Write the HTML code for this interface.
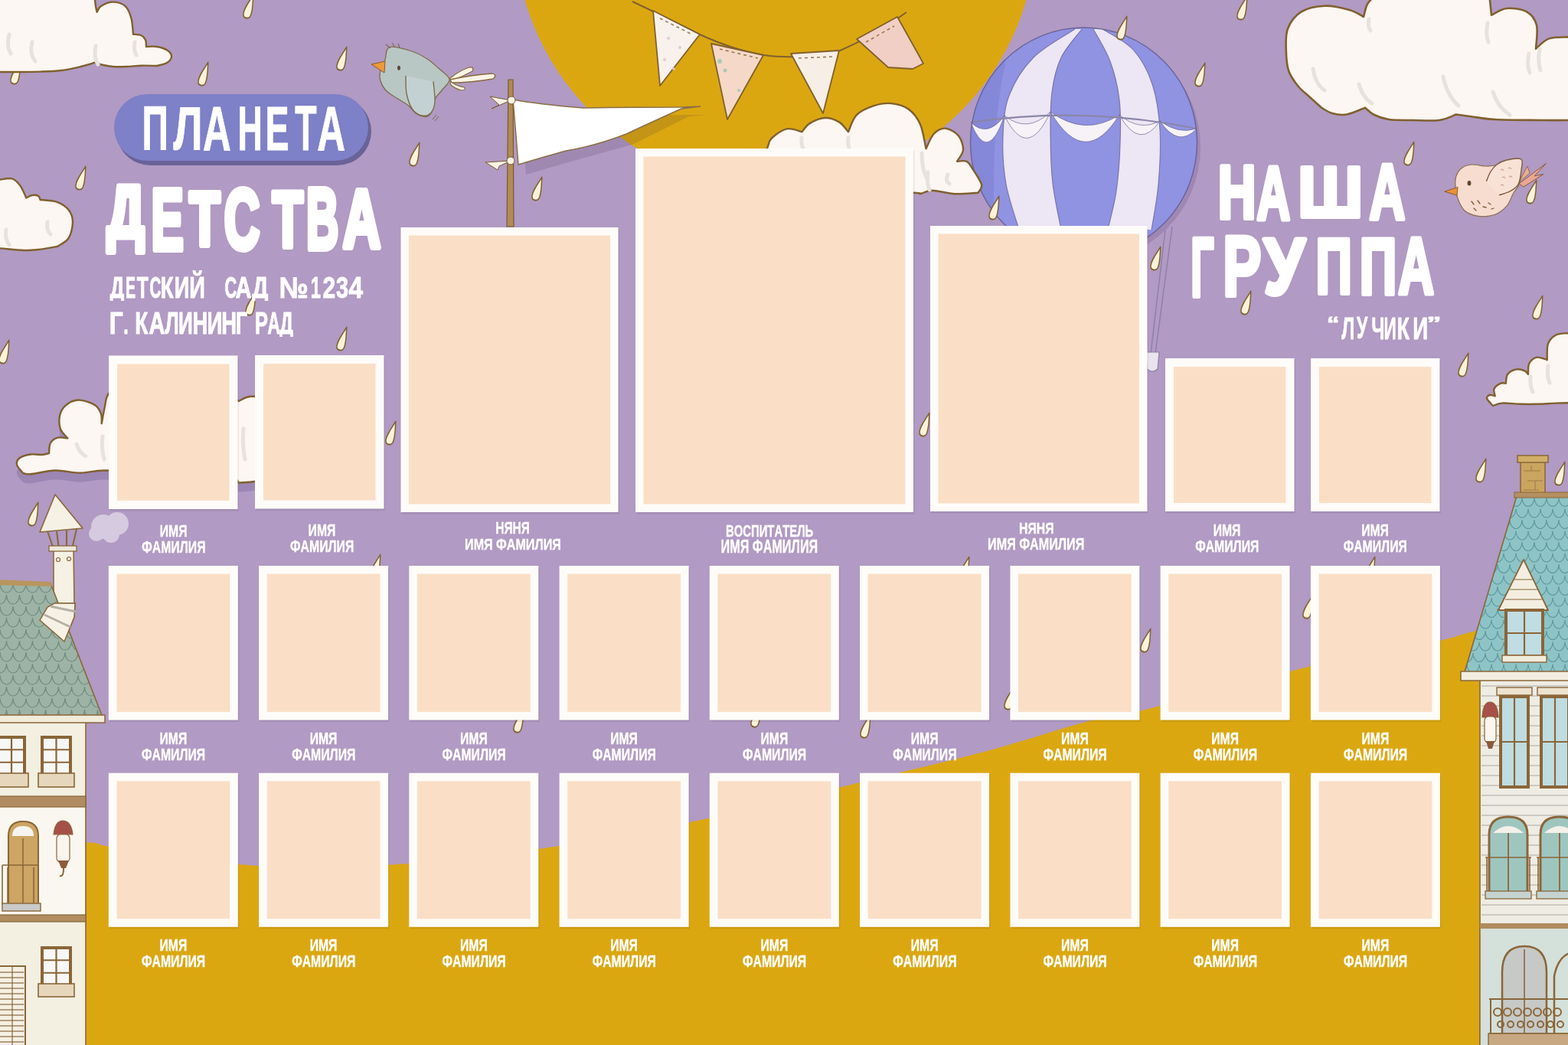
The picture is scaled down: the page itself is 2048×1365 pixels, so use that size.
<!DOCTYPE html>
<html lang="ru"><head><meta charset="utf-8"><title>Планета детства — наша группа</title>
<style>
html,body{margin:0;padding:0;background:#B19AC3;}
body{width:2048px;height:1365px;overflow:hidden;}
svg{display:block;}
svg text{font-family:"Liberation Sans","DejaVu Sans",sans-serif;font-weight:bold;font-kerning:none;}
</style></head><body>
<svg width="2048" height="1365" viewBox="0 0 2048 1365"><defs><path id="drop" d="M 3 -17 C 4.5 -9 7 -1 5.5 6 C 4.5 11.5 -4 11.5 -5 6.5 C -6 0 -1 -8 3 -17 Z" fill="#FBF3D9" stroke="#80602F" stroke-width="1.6" stroke-linejoin="round"/><clipPath id="cpBal"><ellipse cx="1415.5" cy="186" rx="148" ry="150"/></clipPath><pattern id="scL" width="17" height="30" patternUnits="userSpaceOnUse" y="762"><path d="M 0 0 A 8.5 12 0 0 0 17 0 M -8.5 15 A 8.5 12 0 0 0 8.5 15 M 8.5 15 A 8.5 12 0 0 0 25.5 15 M 0 30 A 8.5 12 0 0 0 17 30" fill="none" stroke="#6F8C7E" stroke-width="1.2"/></pattern><pattern id="scR" width="16" height="29" patternUnits="userSpaceOnUse" x="4" y="650"><path d="M 0 0 A 8 11.5 0 0 0 16 0 M -8 14.5 A 8 11.5 0 0 0 8 14.5 M 8 14.5 A 8 11.5 0 0 0 24 14.5 M 0 29 A 8 11.5 0 0 0 16 29" fill="none" stroke="#5E9BA0" stroke-width="1.2"/></pattern><clipPath id="cpT"><rect x="0" y="0" width="2048" height="338"/></clipPath><clipPath id="cpS1"><rect x="0" y="0" width="2048" height="393"/></clipPath><clipPath id="cpS2"><rect x="0" y="0" width="2048" height="440"/></clipPath></defs><rect x="0" y="0" width="2048" height="1365" fill="#B19AC3"/>
<circle cx="1013" cy="-95" r="341" fill="#DBA711"/>
<path d="M -20.0 1092.0 C 2.0 1093.3 85.5 1097.8 112.0 1100.0 C 138.5 1102.2 119.3 1101.7 139.0 1105.0 C 158.7 1108.3 197.0 1115.7 230.0 1120.0 C 263.0 1124.3 305.3 1128.8 337.0 1131.0 C 368.7 1133.2 387.0 1133.5 420.0 1133.0 C 453.0 1132.5 498.3 1130.5 535.0 1128.0 C 571.7 1125.5 607.5 1121.8 640.0 1118.0 C 672.5 1114.2 698.3 1110.0 730.0 1105.0 C 761.7 1100.0 797.5 1094.0 830.0 1088.0 C 862.5 1082.0 895.0 1075.3 925.0 1069.0 C 955.0 1062.7 981.7 1056.7 1010.0 1050.0 C 1038.3 1043.3 1067.3 1035.8 1095.0 1029.0 C 1122.7 1022.2 1143.0 1017.2 1176.0 1009.0 C 1209.0 1000.8 1251.5 991.3 1293.0 980.0 C 1334.5 968.7 1392.5 949.5 1425.0 941.0 C 1457.5 932.5 1458.8 936.0 1488.0 929.0 C 1517.2 922.0 1562.5 908.8 1600.0 899.0 C 1637.5 889.2 1679.7 877.8 1713.0 870.0 C 1746.3 862.2 1771.5 857.7 1800.0 852.0 C 1828.5 846.3 1862.7 840.7 1884.0 836.0 C 1905.3 831.3 1897.0 831.7 1928.0 824.0 C 1959.0 816.3 2046.3 795.7 2070.0 790.0  L 2070 1400 L -20 1400 Z" fill="#DBA711"/>
<use href="#drop" transform="translate(20,98) rotate(12) scale(0.92,1.15)"/>
<g><path d="M -10.0 -10.0 L 124.0 -10.0 L 124.0 0.0 C 124.2 1.3 124.6 5.4 125.0 8.0 C 125.4 10.6 126.3 14.5 126.6 15.8 C 127.5 14.5 128.4 10.1 131.9 7.9 C 135.4 5.7 142.4 2.6 147.7 2.6 C 153.0 2.6 159.6 4.4 163.5 7.9 C 167.4 11.4 169.7 17.6 171.4 23.7 C 173.2 29.8 173.6 41.3 174.0 44.8 C 175.7 45.0 181.3 44.8 184.0 46.0 C 186.7 47.2 188.8 49.5 190.0 52.0 C 191.2 54.5 190.8 59.5 191.0 61.0 C 193.3 61.0 200.3 60.2 205.0 61.0 C 209.7 61.8 215.8 63.8 219.0 66.0 C 222.2 68.2 224.2 71.3 224.0 74.0 C 223.8 76.7 221.2 80.0 218.0 82.0 C 214.8 84.0 207.2 85.3 205.0 86.0 C 201.6 86.0 191.3 85.5 184.6 85.7 C 177.9 85.9 171.2 86.8 165.0 87.0 C 158.8 87.2 152.7 87.3 147.7 87.0 C 142.7 86.7 138.9 85.9 135.0 85.0 C 131.1 84.1 125.8 82.2 124.0 81.7 C 120.9 82.6 112.8 85.3 105.5 87.0 C 98.2 88.7 88.8 90.9 80.0 92.0 C 71.2 93.1 62.7 93.3 52.7 93.6 C 42.7 93.9 30.5 93.9 20.0 94.0 C 9.5 94.1 -5.0 94.0 -10.0 94.0 L -10.0 -10.0 Z" fill="#FCF7F2" stroke="#80602F" stroke-width="2.4" stroke-linejoin="round"/><path d="M 42 55 Q 38 70 46 80" fill="none" stroke="#E6E2DD" stroke-width="5" stroke-linecap="round"/><path d="M 125 60 Q 122 75 128 84" fill="none" stroke="#E6E2DD" stroke-width="5" stroke-linecap="round"/><path d="M 176 55 Q 174 64 178 72" fill="none" stroke="#E6E2DD" stroke-width="5" stroke-linecap="round"/><path d="M 12 45 Q 8 60 14 70" fill="none" stroke="#E6E2DD" stroke-width="5" stroke-linecap="round"/></g>
<g><path d="M -10.0 236.0 L 0.0 234.7 C 2.6 234.5 11.4 232.1 15.8 233.4 C 20.2 234.7 23.3 238.4 26.4 242.6 C 29.5 246.8 33.0 255.8 34.3 258.4 C 35.6 257.8 39.4 255.4 42.0 255.0 C 44.6 254.6 48.2 255.0 50.0 256.0 C 51.8 257.0 52.2 260.2 52.7 261.0 C 56.2 261.4 67.6 261.5 73.8 263.7 C 80.0 265.9 86.2 269.9 89.7 274.3 C 93.2 278.7 95.0 283.9 95.0 290.0 C 95.0 296.1 93.0 305.7 89.7 311.0 C 86.4 316.3 77.5 320.2 75.0 322.0 C 70.8 322.7 57.2 325.2 50.0 326.0 C 42.8 326.8 39.9 327.3 31.6 327.0 C 23.3 326.7 6.9 324.9 0.0 324.4 C -6.9 323.9 -8.3 324.1 -10.0 324.0 L -10.0 236.0 Z" fill="#FCF7F2" stroke="#80602F" stroke-width="2.4" stroke-linejoin="round"/><path d="M 8 300 Q 6 312 12 320" fill="none" stroke="#E6E2DD" stroke-width="5" stroke-linecap="round"/><path d="M 62 290 Q 60 300 66 306" fill="none" stroke="#E6E2DD" stroke-width="5" stroke-linecap="round"/></g>
<g><path d="M 30.0 618.0 C 28.7 616.2 22.7 610.3 22.0 607.0 C 21.3 603.7 23.0 600.2 26.0 598.0 C 29.0 595.8 35.2 594.2 40.0 593.5 C 44.8 592.8 51.0 594.2 55.0 594.0 C 59.0 593.8 62.5 592.3 64.0 592.0 C 64.3 589.8 63.9 582.4 65.8 579.0 C 67.7 575.6 71.7 572.8 75.5 571.7 C 79.3 570.6 86.2 572.4 88.4 572.5 C 86.8 570.4 80.3 565.0 78.7 559.6 C 77.1 554.2 77.1 545.7 78.7 540.3 C 80.3 534.9 84.1 530.3 88.4 527.4 C 92.7 524.5 98.6 522.3 104.5 522.6 C 110.4 522.9 119.2 526.0 123.8 529.0 C 128.4 532.0 130.4 536.3 131.9 540.3 C 133.4 544.3 132.6 551.1 132.7 553.2 C 133.4 549.7 135.2 538.7 136.7 532.2 C 138.2 525.8 137.7 519.9 141.6 514.5 C 145.5 509.1 150.3 503.2 160.0 500.0 C 169.7 496.8 185.0 495.0 200.0 495.0 C 215.0 495.0 235.0 497.5 250.0 500.0 C 265.0 502.5 279.7 506.0 290.0 510.0 C 300.3 514.0 308.3 521.7 312.0 524.0 C 313.7 523.2 318.5 520.0 322.0 519.0 C 325.5 518.0 329.2 517.5 333.0 518.0 C 336.8 518.5 340.8 515.0 345.0 522.0 C 349.2 529.0 357.2 547.0 358.0 560.0 C 358.8 573.0 353.0 589.2 350.0 600.0 C 347.0 610.8 343.0 620.2 340.0 625.0 C 337.0 629.8 336.5 628.1 331.8 629.0 C 327.1 629.9 315.3 630.3 312.0 630.6 C 310.0 629.2 310.3 624.1 300.0 622.0 C 289.7 619.9 266.7 618.8 250.0 618.0 C 233.3 617.2 218.9 617.6 200.0 617.0 C 181.1 616.4 152.6 614.4 136.7 614.5 C 120.8 614.6 115.2 617.7 104.5 617.7 C 93.8 617.7 83.0 614.2 72.2 614.5 C 61.5 614.8 47.0 618.7 40.0 619.3 C 33.0 619.9 31.7 618.2 30.0 618.0 Z" fill="#9C86B3" transform="translate(0,12)"/><path d="M 30.0 618.0 C 28.7 616.2 22.7 610.3 22.0 607.0 C 21.3 603.7 23.0 600.2 26.0 598.0 C 29.0 595.8 35.2 594.2 40.0 593.5 C 44.8 592.8 51.0 594.2 55.0 594.0 C 59.0 593.8 62.5 592.3 64.0 592.0 C 64.3 589.8 63.9 582.4 65.8 579.0 C 67.7 575.6 71.7 572.8 75.5 571.7 C 79.3 570.6 86.2 572.4 88.4 572.5 C 86.8 570.4 80.3 565.0 78.7 559.6 C 77.1 554.2 77.1 545.7 78.7 540.3 C 80.3 534.9 84.1 530.3 88.4 527.4 C 92.7 524.5 98.6 522.3 104.5 522.6 C 110.4 522.9 119.2 526.0 123.8 529.0 C 128.4 532.0 130.4 536.3 131.9 540.3 C 133.4 544.3 132.6 551.1 132.7 553.2 C 133.4 549.7 135.2 538.7 136.7 532.2 C 138.2 525.8 137.7 519.9 141.6 514.5 C 145.5 509.1 150.3 503.2 160.0 500.0 C 169.7 496.8 185.0 495.0 200.0 495.0 C 215.0 495.0 235.0 497.5 250.0 500.0 C 265.0 502.5 279.7 506.0 290.0 510.0 C 300.3 514.0 308.3 521.7 312.0 524.0 C 313.7 523.2 318.5 520.0 322.0 519.0 C 325.5 518.0 329.2 517.5 333.0 518.0 C 336.8 518.5 340.8 515.0 345.0 522.0 C 349.2 529.0 357.2 547.0 358.0 560.0 C 358.8 573.0 353.0 589.2 350.0 600.0 C 347.0 610.8 343.0 620.2 340.0 625.0 C 337.0 629.8 336.5 628.1 331.8 629.0 C 327.1 629.9 315.3 630.3 312.0 630.6 C 310.0 629.2 310.3 624.1 300.0 622.0 C 289.7 619.9 266.7 618.8 250.0 618.0 C 233.3 617.2 218.9 617.6 200.0 617.0 C 181.1 616.4 152.6 614.4 136.7 614.5 C 120.8 614.6 115.2 617.7 104.5 617.7 C 93.8 617.7 83.0 614.2 72.2 614.5 C 61.5 614.8 47.0 618.7 40.0 619.3 C 33.0 619.9 31.7 618.2 30.0 618.0 Z" fill="#FCF7F2" stroke="#80602F" stroke-width="2.4" stroke-linejoin="round"/><path d="M 100 580 Q 104 592 112 596" fill="none" stroke="#E6E2DD" stroke-width="5" stroke-linecap="round"/><path d="M 134 570 Q 132 585 136 600" fill="none" stroke="#E6E2DD" stroke-width="5" stroke-linecap="round"/><path d="M 318 560 Q 316 580 320 600" fill="none" stroke="#E6E2DD" stroke-width="5" stroke-linecap="round"/></g>
<g><path d="M 1781.0 22.0 C 1781.7 19.4 1783.5 10.6 1785.3 6.6 C 1787.1 2.6 1790.9 -0.6 1792.0 -2.0 L 1792.0 -10.0 L 1946.0 -10.0 L 1946.0 0.0 C 1946.2 1.7 1946.7 6.7 1947.0 10.0 C 1947.3 13.3 1947.8 18.2 1948.0 19.8 C 1951.3 18.3 1960.1 11.7 1967.8 11.0 C 1975.5 10.3 1987.5 11.7 1994.0 15.4 C 2000.5 19.1 2005.0 24.9 2007.0 33.0 C 2009.0 41.0 2006.2 58.6 2006.0 63.7 C 2008.8 61.5 2015.7 53.2 2022.7 50.6 C 2029.7 48.0 2041.8 48.8 2048.0 48.4 C 2054.2 48.0 2058.0 48.1 2060.0 48.0 L 2060.0 157.0 C 2051.9 157.0 2029.6 157.2 2011.7 157.0 C 1993.8 156.8 1967.7 156.8 1952.4 156.0 C 1937.1 155.2 1928.4 153.1 1920.0 152.0 C 1911.6 150.9 1904.8 149.9 1901.8 149.5 C 1898.1 150.8 1889.3 155.8 1879.8 157.0 C 1870.3 158.2 1856.0 157.2 1845.0 157.0 C 1834.0 156.8 1822.2 157.2 1813.9 156.0 C 1805.6 154.8 1800.2 152.6 1795.0 150.0 C 1789.8 147.4 1785.0 142.2 1783.0 140.7 C 1779.0 142.2 1766.2 148.3 1759.0 149.5 C 1751.8 150.7 1745.5 149.5 1740.0 148.0 C 1734.5 146.5 1728.3 141.9 1726.0 140.7 C 1723.7 138.6 1717.2 132.8 1712.0 128.0 C 1706.8 123.2 1699.8 118.0 1695.0 112.0 C 1690.2 106.0 1685.5 99.7 1683.0 92.0 C 1680.5 84.3 1680.0 75.1 1679.8 66.0 C 1679.6 56.9 1678.7 45.8 1682.0 37.4 C 1685.3 29.0 1691.5 20.4 1699.6 15.4 C 1707.6 10.4 1719.7 8.1 1730.3 7.7 C 1740.9 7.3 1754.8 10.8 1763.3 13.2 C 1771.8 15.6 1778.0 20.5 1781.0 22.0 Z" fill="#FCF7F2" stroke="#80602F" stroke-width="2.6" stroke-linejoin="round"/><path d="M 1715 90 Q 1718 110 1730 118" fill="none" stroke="#E6E2DD" stroke-width="5" stroke-linecap="round"/><path d="M 1775 110 Q 1780 128 1792 135" fill="none" stroke="#E6E2DD" stroke-width="5" stroke-linecap="round"/><path d="M 1885 100 Q 1890 125 1905 138" fill="none" stroke="#E6E2DD" stroke-width="5" stroke-linecap="round"/><path d="M 1950 120 Q 1956 140 1972 150" fill="none" stroke="#E6E2DD" stroke-width="5" stroke-linecap="round"/><path d="M 1788 25 Q 1786 35 1790 40" fill="none" stroke="#E6E2DD" stroke-width="5" stroke-linecap="round"/><path d="M 1943 30 Q 1940 45 1944 55" fill="none" stroke="#E6E2DD" stroke-width="5" stroke-linecap="round"/><path d="M 1997 70 Q 1994 85 1998 95" fill="none" stroke="#E6E2DD" stroke-width="5" stroke-linecap="round"/><path d="M 2011 64 Q 2008 80 2012 92" fill="none" stroke="#E6E2DD" stroke-width="5" stroke-linecap="round"/></g>
<g><path d="M 1950.0 530.0 C 1948.7 528.5 1942.8 523.0 1942.1 520.7 C 1941.4 518.4 1943.8 516.6 1945.6 516.0 C 1947.4 515.4 1951.5 517.0 1952.7 517.2 C 1952.5 515.7 1950.3 510.6 1951.5 507.9 C 1952.7 505.2 1957.2 502.0 1959.7 500.8 C 1962.2 499.6 1965.6 500.8 1966.8 500.8 C 1967.2 498.8 1966.9 492.0 1969.0 489.0 C 1971.1 486.0 1975.9 483.4 1979.6 482.6 C 1983.3 481.8 1988.7 483.3 1991.4 484.4 C 1994.1 485.5 1995.2 488.2 1996.0 489.0 C 1996.2 486.7 1995.4 478.7 1997.2 475.0 C 1999.0 471.3 2003.1 467.8 2006.6 466.8 C 2010.1 465.8 2015.9 468.6 2018.3 469.2 C 2020.7 469.8 2020.3 470.1 2020.7 470.3 C 2020.9 466.8 2020.0 454.7 2021.9 449.2 C 2023.9 443.7 2028.1 439.8 2032.4 437.5 C 2036.8 435.2 2043.4 435.6 2048.0 435.2 C 2052.6 434.8 2058.0 435.0 2060.0 435.0 L 2060.0 526.0 C 2055.4 526.1 2040.9 526.3 2032.4 526.6 C 2023.9 526.9 2016.8 527.6 2009.0 527.8 C 2001.2 528.0 1993.3 528.0 1985.5 527.8 C 1977.7 527.6 1967.9 526.2 1962.0 526.6 C 1956.1 527.0 1952.0 529.4 1950.0 530.0 Z" fill="#FCF7F2" stroke="#80602F" stroke-width="2.4" stroke-linejoin="round"/><path d="M 1999 492 Q 1998 505 2002 512" fill="none" stroke="#E6E2DD" stroke-width="5" stroke-linecap="round"/><path d="M 2022 478 Q 2020 492 2024 500" fill="none" stroke="#E6E2DD" stroke-width="5" stroke-linecap="round"/></g>
<g fill="#D5CADF"><circle cx="135" cy="688" r="16"/><circle cx="153" cy="684" r="15"/><circle cx="145" cy="698" r="11"/><circle cx="126" cy="697" r="10"/></g>
<path d="M 1531 296 L 1509 462 M 1522 300 L 1503 462" stroke="#8C7FA6" stroke-width="1.4" fill="none"/>
<path d="M 1497 460 L 1514 460 L 1512 482 Q 1505 488 1498 482 Z" fill="#E9E3EE" stroke="#8C7FA6" stroke-width="1.2"/>
<ellipse cx="1420" cy="192" rx="148" ry="150" fill="#8F78A8" opacity="0.55"/>
<ellipse cx="1415.5" cy="186" rx="148" ry="150" fill="#9092E2"/>
<g clip-path="url(#cpBal)"><path d="M 1260 30 L 1330 30 Q 1290 120 1300 330 L 1260 330 Z" fill="#7F81D2" opacity="0.6"/><path d="M 1404.0 38.0 C 1395.0 44.2 1364.3 60.5 1350.0 75.0 C 1335.7 89.5 1324.7 107.5 1318.0 125.0 C 1311.3 142.5 1310.7 160.8 1310.0 180.0 C 1309.3 199.2 1310.5 220.0 1314.0 240.0 C 1317.5 260.0 1328.2 290.0 1331.0 300.0  L 1386.0 300.0 C 1384.2 290.0 1377.3 260.0 1375.0 240.0 C 1372.7 220.0 1372.2 200.0 1372.0 180.0 C 1371.8 160.0 1371.7 137.5 1374.0 120.0 C 1376.3 102.5 1379.5 88.7 1386.0 75.0 C 1392.5 61.3 1408.5 44.2 1413.0 38.0  Z" fill="#EDE6F4"/><path d="M 1428.0 38.0 C 1431.7 45.0 1444.3 64.7 1450.0 80.0 C 1455.7 95.3 1459.8 111.7 1462.0 130.0 C 1464.2 148.3 1463.7 170.0 1463.0 190.0 C 1462.3 210.0 1460.7 231.7 1458.0 250.0 C 1455.3 268.3 1448.8 291.7 1447.0 300.0  L 1504.0 300.0 C 1505.5 290.0 1511.2 261.7 1513.0 240.0 C 1514.8 218.3 1516.3 191.7 1515.0 170.0 C 1513.7 148.3 1510.8 127.5 1505.0 110.0 C 1499.2 92.5 1490.8 77.0 1480.0 65.0 C 1469.2 53.0 1446.7 42.5 1440.0 38.0  Z" fill="#EDE6F4"/><path d="M 1404.0 38.0 C 1395.0 44.2 1364.3 60.5 1350.0 75.0 C 1335.7 89.5 1324.7 107.5 1318.0 125.0 C 1311.3 142.5 1310.7 160.8 1310.0 180.0 C 1309.3 199.2 1310.5 220.0 1314.0 240.0 C 1317.5 260.0 1328.2 290.0 1331.0 300.0 " fill="none" stroke="#5C5889" stroke-width="1.1" opacity="0.7"/><path d="M 1386.0 300.0 C 1384.2 290.0 1377.3 260.0 1375.0 240.0 C 1372.7 220.0 1372.2 200.0 1372.0 180.0 C 1371.8 160.0 1371.7 137.5 1374.0 120.0 C 1376.3 102.5 1379.5 88.7 1386.0 75.0 C 1392.5 61.3 1408.5 44.2 1413.0 38.0 " fill="none" stroke="#5C5889" stroke-width="1.1" opacity="0.7"/><path d="M 1428.0 38.0 C 1431.7 45.0 1444.3 64.7 1450.0 80.0 C 1455.7 95.3 1459.8 111.7 1462.0 130.0 C 1464.2 148.3 1463.7 170.0 1463.0 190.0 C 1462.3 210.0 1460.7 231.7 1458.0 250.0 C 1455.3 268.3 1448.8 291.7 1447.0 300.0 " fill="none" stroke="#5C5889" stroke-width="1.1" opacity="0.7"/><path d="M 1504.0 300.0 C 1505.5 290.0 1511.2 261.7 1513.0 240.0 C 1514.8 218.3 1516.3 191.7 1515.0 170.0 C 1513.7 148.3 1510.8 127.5 1505.0 110.0 C 1499.2 92.5 1490.8 77.0 1480.0 65.0 C 1469.2 53.0 1446.7 42.5 1440.0 38.0 " fill="none" stroke="#5C5889" stroke-width="1.1" opacity="0.7"/></g>
<path d="M 1268 160 Q 1290.0 215.95 1312 151 Q 1290.0 180.85 1268 160 Z" fill="#F6F2F8" stroke="#5C5889" stroke-width="0.9" stroke-opacity="0.7"/><path d="M 1312 151 Q 1342.0 212.05 1372 146 Q 1342.0 175.15 1312 151 Z" fill="#F6F2F8" stroke="#5C5889" stroke-width="0.9" stroke-opacity="0.7"/><path d="M 1372 146 Q 1417.0 222.4 1462 150 Q 1417.0 179.2 1372 146 Z" fill="#F6F2F8" stroke="#5C5889" stroke-width="0.9" stroke-opacity="0.7"/><path d="M 1462 150 Q 1488.5 197.4 1515 158 Q 1488.5 172.2 1462 150 Z" fill="#F6F2F8" stroke="#5C5889" stroke-width="0.9" stroke-opacity="0.7"/><path d="M 1515 158 Q 1539.0 194.0 1563 168 Q 1539.0 176.0 1515 158 Z" fill="#F6F2F8" stroke="#5C5889" stroke-width="0.9" stroke-opacity="0.7"/>
<path d="M 1268 160 Q 1415 138 1563 168" fill="none" stroke="#8A86A6" stroke-width="2.2"/>
<ellipse cx="1415.5" cy="186" rx="148" ry="150" fill="none" stroke="#5C5889" stroke-width="1.4" opacity="0.8"/>
<g><path d="M 1000.0 200.0 C 1000.5 198.5 1001.7 194.2 1003.0 191.0 C 1004.3 187.8 1003.9 184.3 1008.0 180.5 C 1012.1 176.7 1021.2 169.8 1027.8 168.4 C 1034.4 167.0 1044.2 171.6 1047.5 172.2 C 1049.2 170.3 1053.0 163.9 1058.0 160.9 C 1063.0 157.9 1071.5 154.2 1077.8 154.0 C 1084.1 153.8 1091.0 156.4 1096.0 159.4 C 1101.0 162.4 1106.0 170.1 1108.0 172.2 C 1109.8 168.5 1113.1 156.0 1118.7 150.3 C 1124.3 144.6 1133.9 140.7 1141.4 138.2 C 1149.0 135.7 1156.4 134.3 1164.0 135.1 C 1171.6 135.8 1180.5 138.1 1186.8 142.7 C 1193.1 147.2 1198.2 153.8 1202.0 162.4 C 1205.8 171.0 1208.2 188.9 1209.5 194.2 C 1211.2 190.9 1215.7 178.9 1220.0 174.5 C 1224.3 170.1 1229.9 167.2 1235.2 167.7 C 1240.5 168.2 1248.2 172.8 1252.0 177.5 C 1255.8 182.2 1258.3 190.1 1258.0 195.7 C 1257.7 201.2 1251.3 208.3 1250.0 210.8 C 1252.1 210.8 1259.2 209.3 1262.5 210.8 C 1265.8 212.3 1266.8 215.0 1270.0 220.0 C 1273.2 225.0 1280.7 235.7 1282.0 241.0 C 1283.3 246.3 1278.3 249.9 1277.6 251.7 C 1272.5 251.9 1257.4 253.7 1247.3 253.2 C 1237.2 252.7 1224.5 248.7 1217.0 248.7 C 1209.5 248.7 1206.0 252.7 1202.0 253.2 C 1198.0 253.7 1210.0 252.2 1193.0 251.7 C 1176.0 251.2 1132.2 250.3 1100.0 250.0 C 1067.8 249.7 1016.7 250.0 1000.0 250.0 L 1000.0 200.0 Z" fill="#FCF7F2" stroke="#80602F" stroke-width="2.4" stroke-linejoin="round"/><path d="M 1047 180 Q 1046 190 1050 196" fill="none" stroke="#E6E2DD" stroke-width="5" stroke-linecap="round"/><path d="M 1108 180 Q 1107 190 1110 196" fill="none" stroke="#E6E2DD" stroke-width="5" stroke-linecap="round"/><path d="M 1204 200 Q 1204 220 1210 232" fill="none" stroke="#E6E2DD" stroke-width="5" stroke-linecap="round"/><path d="M 1212 225 Q 1210 240 1214 248" fill="none" stroke="#E6E2DD" stroke-width="5" stroke-linecap="round"/><path d="M 1238 228 Q 1234 236 1240 240" fill="none" stroke="#E6E2DD" stroke-width="5" stroke-linecap="round"/></g>
<path d="M 826 2 Q 860 18 914 45 Q 960 66 998 72 Q 1040 78 1093 68 Q 1140 48 1184 16" fill="none" stroke="#80602F" stroke-width="2"/>
<path d="M 853 14 L 914 45 L 862 112 Z" fill="#F8F1EC" stroke="#80602F" stroke-width="1.8" stroke-linejoin="round"/><path d="M 862 24 L 902 44" stroke="#80602F" stroke-width="1.6" stroke-dasharray="4 4" fill="none" opacity="0.8"/>
<path d="M 929 57 L 997 72 L 950 156 Z" fill="#F6D8C8" stroke="#80602F" stroke-width="1.8" stroke-linejoin="round"/><path d="M 940 64 L 990 76" stroke="#80602F" stroke-width="1.6" stroke-dasharray="4 4" fill="none" opacity="0.8"/>
<path d="M 1033 70 L 1096 66 L 1075 148 Z" fill="#F7EFE6" stroke="#80602F" stroke-width="1.8" stroke-linejoin="round"/><path d="M 1043 76 L 1088 74" stroke="#80602F" stroke-width="1.6" stroke-dasharray="4 4" fill="none" opacity="0.8"/>
<path d="M 1119 51 L 1172 22 L 1200 72 L 1206 83 L 1192 90 L 1160 88 Z" fill="#F2CFC4" stroke="#80602F" stroke-width="1.8" stroke-linejoin="round"/><path d="M 1131 55 L 1168 34" stroke="#80602F" stroke-width="1.6" stroke-dasharray="4 4" fill="none" opacity="0.8"/>
<g fill="#E3C9D6"><circle cx="873" cy="50" r="2"/><circle cx="888" cy="62" r="2"/><circle cx="868" cy="78" r="2"/><circle cx="880" cy="90" r="1.8"/></g>
<g fill="#A9C9B8"><circle cx="940" cy="80" r="3"/><circle cx="947" cy="92" r="2.5"/><circle cx="965" cy="118" r="2"/></g>
<path d="M 680 140 L 770 151 L 900 150 L 925 150 L 900 152 L 828 188 L 749 210 L 687 228 Z" fill="#2A1840" opacity="0.13"/>
<path d="M 670 130 Q 700 136 762 141 Q 830 140 890 140 L 915 139 L 890 142 Q 850 160 818 175 Q 780 190 739 197 Q 700 208 677 215 Q 674 175 670 130 Z" fill="#FFFFFF" stroke="#8A6E47" stroke-width="1.4"/>
<path d="M 664 104 L 670 104 L 671 296 L 662 296 Z" fill="#B08A58" stroke="#7A5A2E" stroke-width="1.2"/>
<g fill="#F8F3E4" stroke="#7A5A2E" stroke-width="1"><path d="M 667 131 L 640 126 L 652 137 L 642 142 Z"/><circle cx="668" cy="131" r="5"/><path d="M 667 210 L 634 212 L 650 222 L 652 217 Z"/><circle cx="667" cy="210" r="5"/></g>
<g><path d="M 587 103 Q 600 92 613 88 Q 620 87 617 93 Q 604 100 589 106 Z" fill="#FBF5E6" stroke="#8A6A3E" stroke-width="1.3"/><path d="M 588 104 Q 615 98 643 96 Q 650 98 644 103 Q 615 108 590 108 Z" fill="#FBF5E6" stroke="#8A6A3E" stroke-width="1.3"/><path d="M 589 107 Q 598 113 606 114 Q 610 117 603 118 Q 594 116 588 110 Z" fill="#FBF5E6" stroke="#8A6A3E" stroke-width="1.1"/><path d="M 509.0 61.5 C 514.8 59.7 529.8 64.4 538.0 67.0 C 546.2 69.6 552.2 73.3 558.0 77.0 C 563.8 80.7 567.7 84.6 572.5 89.0 C 577.3 93.4 586.2 98.7 587.0 103.5 C 587.8 108.3 580.2 113.6 577.0 118.0 C 573.8 122.4 570.0 125.1 567.7 130.0 C 565.4 134.9 565.0 143.7 563.0 147.4 C 561.0 151.2 559.3 152.4 556.0 152.5 C 552.7 152.6 546.8 150.4 543.0 148.0 C 539.2 145.6 537.5 141.2 533.5 138.0 C 529.5 134.8 523.7 131.8 518.8 128.5 C 513.9 125.2 507.7 122.2 504.0 118.0 C 500.3 113.8 497.5 108.0 496.4 103.5 C 495.3 99.0 496.2 95.0 497.3 90.8 C 498.4 86.5 501.1 82.9 503.0 78.0 C 504.9 73.1 503.2 63.3 509.0 61.5 Z" fill="#B8C7C4" stroke="#7E6A4C" stroke-width="1.3"/><path d="M 530.0 99.0 C 530.2 102.8 529.6 114.8 531.0 122.0 C 532.4 129.2 535.2 137.7 538.5 142.5 C 541.8 147.3 547.0 150.2 551.0 151.0 C 555.0 151.8 560.0 150.4 562.8 147.4 C 565.6 144.4 567.5 139.6 568.0 132.8 C 568.5 126.0 566.3 110.8 566.0 106.4  Z" fill="#C3D1D2"/><path d="M 530.0 99.0 C 530.2 102.8 529.6 114.8 531.0 122.0 C 532.4 129.2 535.2 137.7 538.5 142.5 C 541.8 147.3 547.0 150.2 551.0 151.0 C 555.0 151.8 560.0 150.4 562.8 147.4 C 565.6 144.4 567.5 139.6 568.0 132.8 C 568.5 126.0 566.3 110.8 566.0 106.4 " fill="none" stroke="#7E6A4C" stroke-width="1.4"/><path d="M 510 63 L 504 58 M 516 62 L 512 56 M 522 62 L 520 57" stroke="#7E6A4C" stroke-width="1.2"/><path d="M 503 80 L 485 84 L 502 95 Z" fill="#EB9A35" stroke="#8A5A2E" stroke-width="1"/><ellipse cx="521" cy="88.8" rx="2" ry="3" fill="#5A4A30"/><path d="M 565 156 L 570 150 M 568 158 L 573 152" stroke="#7E6A4C" stroke-width="1"/></g>
<g><path d="M 1984 240 L 2019.5 213.4 L 2004 230 L 2016 227.5 L 1990 244 Z" fill="#E9A895" stroke="#8A5A3E" stroke-width="1"/><path d="M 1984 238 L 1995 217 L 1998 226 Z" fill="#E8B090" stroke="#8A5A3E" stroke-width="0.8"/><path d="M 1910.0 219.0 C 1913.3 216.7 1916.8 215.3 1922.0 215.0 C 1927.2 214.7 1935.8 216.8 1941.0 217.0 C 1946.2 217.2 1948.5 216.8 1953.0 216.0 C 1957.5 215.2 1962.7 211.0 1968.0 212.0 C 1973.3 213.0 1982.3 217.2 1985.0 222.0 C 1987.7 226.8 1985.4 235.9 1984.0 241.0 C 1982.6 246.1 1979.1 248.0 1976.6 252.5 C 1974.1 257.0 1972.1 263.7 1968.8 268.0 C 1965.5 272.3 1960.9 275.9 1957.0 278.3 C 1953.1 280.7 1949.8 281.6 1945.3 282.2 C 1940.8 282.8 1934.9 283.2 1929.7 282.2 C 1924.5 281.2 1918.0 279.0 1914.0 276.0 C 1910.0 273.0 1908.0 268.1 1906.0 264.2 C 1904.0 260.3 1903.2 256.4 1902.3 252.5 C 1901.4 248.6 1900.8 244.7 1900.8 240.8 C 1900.8 236.9 1900.8 232.6 1902.3 229.0 C 1903.8 225.4 1906.7 221.3 1910.0 219.0 Z" fill="#F7DDCF" stroke="#8A6A4E" stroke-width="1.2"/><path d="M 1941.4 236.9 C 1942.3 234.8 1944.7 227.7 1947.0 224.0 C 1949.3 220.3 1951.5 217.5 1955.0 215.0 C 1958.5 212.5 1962.7 210.2 1968.0 209.0 C 1973.3 207.8 1983.5 205.8 1986.7 208.0 C 1989.9 210.2 1987.6 216.5 1987.0 222.0 C 1986.4 227.5 1985.5 236.1 1983.0 240.8 C 1980.5 245.5 1976.2 247.7 1972.0 250.0 C 1967.8 252.3 1960.3 254.0 1958.0 254.8 " fill="#F8E2D6" stroke="#7A5A3A" stroke-width="1.4"/><path d="M 1904 244.5 L 1886.7 250.2 L 1903 255 Z" fill="#EB8F3A" stroke="#8A5A2E" stroke-width="1"/><ellipse cx="1919" cy="239.2" rx="2.4" ry="3.2" fill="#5A4A30"/><g stroke="#7A5A3A" stroke-width="1.3" stroke-linecap="round"><path d="M 1922 263 L 1925 267 M 1930 262 L 1933 266 M 1937 270 L 1941 271 M 1944 265 L 1947 267 M 1925 272 L 1928 275 M 1948 273 L 1951 272"/></g><g stroke="#C9A58C" stroke-width="1.2" fill="none"><path d="M 1960 222 q 3 -2 4 1 M 1970 220 q 3 -2 4 1 M 1962 232 q 3 -2 4 1 M 1971 231 q 3 -2 4 1 M 1960 242 q 3 -2 4 1"/></g></g>
<use href="#drop" transform="translate(324,12) rotate(12) scale(0.92,1.15)"/>
<use href="#drop" transform="translate(265,100) rotate(12) scale(0.92,1.15)"/>
<use href="#drop" transform="translate(446,80) rotate(12) scale(0.92,1.15)"/>
<use href="#drop" transform="translate(105,236) rotate(12) scale(0.92,1.15)"/>
<use href="#drop" transform="translate(541,205) rotate(12) scale(0.92,1.15)"/>
<use href="#drop" transform="translate(701,250) rotate(12) scale(0.92,1.15)"/>
<use href="#drop" transform="translate(327,400) rotate(12) scale(0.92,1.15)"/>
<use href="#drop" transform="translate(446,446) rotate(12) scale(0.92,1.15)"/>
<use href="#drop" transform="translate(5,463) rotate(12) scale(0.92,1.15)"/>
<use href="#drop" transform="translate(510,569) rotate(12) scale(0.92,1.15)"/>
<use href="#drop" transform="translate(490,743) rotate(12) scale(0.92,1.15)"/>
<use href="#drop" transform="translate(43,675) rotate(12) scale(0.92,1.15)"/>
<use href="#drop" transform="translate(1622,14) rotate(12) scale(0.92,1.15)"/>
<use href="#drop" transform="translate(1465,40) rotate(12) scale(0.92,1.15)"/>
<use href="#drop" transform="translate(1567,101) rotate(12) scale(0.92,1.15)"/>
<use href="#drop" transform="translate(1840,204) rotate(12) scale(0.92,1.15)"/>
<use href="#drop" transform="translate(1298,275) rotate(12) scale(0.92,1.15)"/>
<use href="#drop" transform="translate(1509,341) rotate(12) scale(0.92,1.15)"/>
<use href="#drop" transform="translate(1627,399) rotate(12) scale(0.92,1.15)"/>
<use href="#drop" transform="translate(2008,405) rotate(12) scale(0.92,1.15)"/>
<use href="#drop" transform="translate(1911,480) rotate(12) scale(0.92,1.15)"/>
<use href="#drop" transform="translate(1934,618) rotate(12) scale(0.92,1.15)"/>
<use href="#drop" transform="translate(2037,622) rotate(12) scale(0.92,1.15)"/>
<use href="#drop" transform="translate(1708,796) rotate(12) scale(0.92,1.15)"/>
<use href="#drop" transform="translate(1496,840) rotate(12) scale(0.92,1.15)"/>
<use href="#drop" transform="translate(1318,915) rotate(12) scale(0.92,1.15)"/>
<use href="#drop" transform="translate(1130,952) rotate(12) scale(0.92,1.15)"/>
<use href="#drop" transform="translate(987,938) rotate(12) scale(0.92,1.15)"/>
<use href="#drop" transform="translate(677,945) rotate(12) scale(0.92,1.15)"/>
<use href="#drop" transform="translate(1207,558) rotate(12) scale(0.92,1.15)"/>
<use href="#drop" transform="translate(2000,254) rotate(12) scale(0.92,1.15)"/>
<use href="#drop" transform="translate(1259,746) rotate(12) scale(0.92,1.15)"/>
<use href="#drop" transform="translate(1789,746) rotate(12) scale(0.92,1.15)"/>
<g><path d="M 70 716 L 96 716 L 97 790 L 70 790 Z" fill="#F5F1E4" stroke="#8A6639" stroke-width="1.5"/><path d="M 71 788 L 98 788 L 97 806 L 84 838 L 52 810 L 62 793 Z" fill="#F5F1E4" stroke="#8A6639" stroke-width="1.5"/><path d="M 66 790 L 99 798 M 60 800 L 92 818" stroke="#A9A49A" stroke-width="3" fill="none"/><g stroke="#8A6639" stroke-width="2" fill="none"><path d="M 62 694 L 70 717 M 74 694 L 77 717 M 87 693 L 87 717 M 100 691 L 94 717"/></g><rect x="64" y="713" width="36" height="7" fill="#EDE8DA" stroke="#8A6639" stroke-width="1.3"/><path d="M 72 646 L 52 695 L 108 690 Z" fill="#F5F1E4" stroke="#8A6639" stroke-width="1.6" stroke-linejoin="round"/><circle cx="76" cy="731" r="2.5" fill="none" stroke="#8A6639" stroke-width="1.2"/><circle cx="90" cy="730" r="2.5" fill="none" stroke="#8A6639" stroke-width="1.2"/><path d="M -5 760 L 66 762 L 134 937 L -5 937 Z" fill="#9DB3A6"/><path d="M -5 760 L 66 762 L 134 937 L -5 937 Z" fill="url(#scL)"/><path d="M -5 760 L 66 762 L 134 937 L -5 937 Z" fill="none" stroke="#8A6639" stroke-width="1.6"/><path d="M -5 757 L 66 760 L 68 766 L -5 764 Z" fill="#B9955F"/><path d="M 71 788 L 98 788 L 97 806 L 84 838 L 52 810 L 62 793 Z" fill="#F5F1E4" stroke="#8A6639" stroke-width="1.5"/><path d="M 66 792 L 99 799 M 58 803 L 92 819" stroke="#B5B0A6" stroke-width="3" fill="none"/><rect x="-5" y="940" width="117" height="430" fill="#F3EFE1" stroke="#8A6639" stroke-width="1.6"/><rect x="-5" y="1056" width="116" height="140" fill="#FAF7F0"/><path d="M -5 934 L 137 934 L 137 944 L -5 944 Z" fill="#F1EBDA" stroke="#8A6639" stroke-width="1.5"/><rect x="-5" y="1040" width="117" height="14" fill="#B08C60" stroke="#8A6639" stroke-width="1.2"/><rect x="-5" y="1195" width="117" height="9" fill="#B08C60" stroke="#8A6639" stroke-width="1.2"/><rect x="-2" y="963" width="34" height="49" fill="#F7F8F6" stroke="#8A6639" stroke-width="4"/><line x1="15.0" y1="963" x2="15.0" y2="1012" stroke="#8A6639" stroke-width="2.2"/><line x1="-2" y1="979.3" x2="32" y2="979.3" stroke="#8A6639" stroke-width="2"/><line x1="-2" y1="995.7" x2="32" y2="995.7" stroke="#8A6639" stroke-width="2"/><rect x="-7" y="1010" width="44" height="18" fill="#E6D7BC" stroke="#8A6639" stroke-width="1.6"/><rect x="55" y="963" width="37" height="49" fill="#F7F8F6" stroke="#8A6639" stroke-width="4"/><line x1="73.5" y1="963" x2="73.5" y2="1012" stroke="#8A6639" stroke-width="2.2"/><line x1="55" y1="979.3" x2="92" y2="979.3" stroke="#8A6639" stroke-width="2"/><line x1="55" y1="995.7" x2="92" y2="995.7" stroke="#8A6639" stroke-width="2"/><rect x="50" y="1010" width="47" height="18" fill="#E6D7BC" stroke="#8A6639" stroke-width="1.6"/><rect x="55" y="1238" width="37" height="49" fill="#F7F8F6" stroke="#8A6639" stroke-width="4"/><line x1="73.5" y1="1238" x2="73.5" y2="1287" stroke="#8A6639" stroke-width="2.2"/><line x1="55" y1="1254.3" x2="92" y2="1254.3" stroke="#8A6639" stroke-width="2"/><line x1="55" y1="1270.7" x2="92" y2="1270.7" stroke="#8A6639" stroke-width="2"/><rect x="50" y="1285" width="47" height="17" fill="#E6D7BC" stroke="#8A6639" stroke-width="1.6"/><path d="M 11 1185 L 11 1092 Q 11 1073 30 1073 Q 50 1073 50 1092 L 50 1185 Z" fill="#CDA564" stroke="#8A6639" stroke-width="2"/><path d="M 16 1092 Q 16 1079 30 1079 Q 44 1079 44 1092 Z" fill="#F6F4EE"/><line x1="30" y1="1095" x2="30" y2="1185" stroke="#8A6639" stroke-width="1.5"/><g stroke="#8A6639" stroke-width="1.6" fill="none"><path d="M 3 1130 L 50 1130 M 3 1130 L 3 1182 M 50 1130 L 50 1182 M 10 1133 L 10 1180 M 44 1133 L 44 1180"/></g><rect x="3" y="1180" width="50" height="10" fill="#C9CACA" stroke="#8A6639" stroke-width="1.4"/><path d="M 70 1090 Q 72 1072 82 1072 Q 93 1072 95 1090 Z" fill="#A6504A" stroke="#8A6639" stroke-width="1.2"/><rect x="74" y="1090" width="17" height="36" rx="5" fill="#FAF6EE" stroke="#8A6639" stroke-width="1.2"/><path d="M 76 1124 L 90 1124 L 86 1134 L 80 1134 Z" fill="#8E5A3A"/><path d="M 83 1134 Q 83 1146 78 1144" stroke="#8A6639" stroke-width="2" fill="none"/><rect x="-2" y="1262" width="35" height="110" fill="#F4F0E3" stroke="#8A6639" stroke-width="2"/><g stroke="#8A6639" stroke-width="1.2"><line x1="0" y1="1270" x2="31" y2="1270"/><line x1="0" y1="1277" x2="31" y2="1277"/><line x1="0" y1="1284" x2="31" y2="1284"/><line x1="0" y1="1291" x2="31" y2="1291"/><line x1="0" y1="1298" x2="31" y2="1298"/><line x1="0" y1="1305" x2="31" y2="1305"/><line x1="0" y1="1312" x2="31" y2="1312"/><line x1="0" y1="1319" x2="31" y2="1319"/><line x1="0" y1="1326" x2="31" y2="1326"/><line x1="0" y1="1333" x2="31" y2="1333"/><line x1="0" y1="1340" x2="31" y2="1340"/><line x1="0" y1="1347" x2="31" y2="1347"/><line x1="0" y1="1354" x2="31" y2="1354"/><line x1="0" y1="1361" x2="31" y2="1361"/><line x1="16" y1="1262" x2="16" y2="1370"/></g></g>
<g><rect x="1986" y="600" width="32" height="48" fill="#C9A55E" stroke="#8A6639" stroke-width="1.5"/><rect x="1982" y="595" width="40" height="9" fill="#D2AF68" stroke="#8A6639" stroke-width="1.5"/><g stroke="#9C7A44" stroke-width="1"><path d="M 1990 615 L 2012 615 M 1995 628 L 2015 628 M 1990 640 L 2010 640 M 2000 608 L 2000 615 M 2005 628 L 2005 640"/></g><path d="M 1981 648 L 2055 648 L 2055 881 L 1912 881 Z" fill="#8FC4C6"/><path d="M 1981 648 L 2055 648 L 2055 881 L 1912 881 Z" fill="url(#scR)"/><path d="M 1981 648 L 2055 648 L 2055 881 L 1912 881 Z" fill="none" stroke="#8A6639" stroke-width="1.6"/><rect x="1978" y="643" width="75" height="7" fill="#B59060" stroke="#8A6639" stroke-width="1"/><path d="M 1957 797 L 1990 731 L 2022 797 Z" fill="#F3EEE0" stroke="#8A6639" stroke-width="1.8" stroke-linejoin="round"/><g stroke="#8A6639" stroke-width="1.2"><path d="M 1978 757 L 2002 757 M 1972 770 L 2008 770 M 1966 783 L 2014 783"/></g><rect x="1967" y="797" width="48" height="60" fill="#BFDDE3" stroke="#8A6639" stroke-width="4"/><line x1="1991.0" y1="797" x2="1991.0" y2="857" stroke="#8A6639" stroke-width="2.2"/><line x1="1967" y1="827.0" x2="2015" y2="827.0" stroke="#8A6639" stroke-width="2"/><rect x="1962" y="856" width="58" height="9" fill="#F1EBDA" stroke="#8A6639" stroke-width="1.4"/><rect x="1933" y="886" width="125" height="485" fill="#EFECE4" stroke="#8A6639" stroke-width="1.6"/><g stroke="#C2BFB8" stroke-width="1.3"><line x1="1935" y1="896" x2="2048" y2="896"/><line x1="1935" y1="909" x2="2048" y2="909"/><line x1="1935" y1="922" x2="2048" y2="922"/><line x1="1935" y1="935" x2="2048" y2="935"/><line x1="1935" y1="948" x2="2048" y2="948"/><line x1="1935" y1="961" x2="2048" y2="961"/><line x1="1935" y1="974" x2="2048" y2="974"/><line x1="1935" y1="987" x2="2048" y2="987"/><line x1="1935" y1="1000" x2="2048" y2="1000"/><line x1="1935" y1="1013" x2="2048" y2="1013"/><line x1="1935" y1="1026" x2="2048" y2="1026"/><line x1="1935" y1="1039" x2="2048" y2="1039"/><line x1="1935" y1="1052" x2="2048" y2="1052"/><line x1="1935" y1="1065" x2="2048" y2="1065"/><line x1="1935" y1="1078" x2="2048" y2="1078"/><line x1="1935" y1="1091" x2="2048" y2="1091"/><line x1="1935" y1="1104" x2="2048" y2="1104"/><line x1="1935" y1="1117" x2="2048" y2="1117"/><line x1="1935" y1="1130" x2="2048" y2="1130"/><line x1="1935" y1="1143" x2="2048" y2="1143"/><line x1="1935" y1="1156" x2="2048" y2="1156"/><line x1="1935" y1="1169" x2="2048" y2="1169"/><line x1="1935" y1="1182" x2="2048" y2="1182"/><line x1="1935" y1="1195" x2="2048" y2="1195"/></g><rect x="1933" y="1212" width="125" height="160" fill="#D4E0DA" stroke="#8A6639" stroke-width="1.4"/><rect x="1933" y="1206" width="125" height="7" fill="#B08C60"/><path d="M 1908 877 L 2055 877 L 2055 889 L 1908 889 Z" fill="#F2EDE0" stroke="#8A6639" stroke-width="1.5"/><rect x="1955" y="898" width="46" height="10" fill="#EDE3CF" stroke="#8A6639" stroke-width="1.4"/><rect x="1960" y="910" width="36" height="118" fill="#BFDCE1" stroke="#8A6639" stroke-width="4"/><line x1="1978.0" y1="910" x2="1978.0" y2="1028" stroke="#8A6639" stroke-width="2.2"/><line x1="1960" y1="969.0" x2="1996" y2="969.0" stroke="#8A6639" stroke-width="2"/><rect x="2008" y="898" width="46" height="10" fill="#EDE3CF" stroke="#8A6639" stroke-width="1.4"/><rect x="2013" y="910" width="36" height="118" fill="#BFDCE1" stroke="#8A6639" stroke-width="4"/><line x1="2031.0" y1="910" x2="2031.0" y2="1028" stroke="#8A6639" stroke-width="2.2"/><line x1="2013" y1="969.0" x2="2049" y2="969.0" stroke="#8A6639" stroke-width="2"/><path d="M 1945 1170 L 1945 1090 Q 1945 1067 1970 1067 Q 1995 1067 1995 1090 L 1995 1170 Z" fill="#9EC6BF" stroke="#8A6639" stroke-width="3"/><path d="M 1950 1088 Q 1970 1070 1990 1088 Z" fill="#F4F1EA"/><line x1="1970" y1="1088" x2="1970" y2="1170" stroke="#8A6639" stroke-width="1.8"/><g stroke="#8A6639" stroke-width="1.6" fill="none"><path d="M 1940 1120 L 2000 1120 M 1942 1120 L 1942 1165 M 1998 1120 L 1998 1165"/></g><rect x="1940" y="1164" width="60" height="10" fill="#C5D3D0" stroke="#8A6639" stroke-width="1.3"/><path d="M 2012 1170 L 2012 1090 Q 2012 1067 2037 1067 Q 2062 1067 2062 1090 L 2062 1170 Z" fill="#9EC6BF" stroke="#8A6639" stroke-width="3"/><path d="M 2017 1088 Q 2037 1070 2057 1088 Z" fill="#F4F1EA"/><line x1="2037" y1="1088" x2="2037" y2="1170" stroke="#8A6639" stroke-width="1.8"/><g stroke="#8A6639" stroke-width="1.6" fill="none"><path d="M 2007 1120 L 2067 1120 M 2009 1120 L 2009 1165 M 2065 1120 L 2065 1165"/></g><rect x="2007" y="1164" width="60" height="10" fill="#C5D3D0" stroke="#8A6639" stroke-width="1.3"/><path d="M 1962 1370 L 1962 1270 Q 1962 1236 1991 1236 Q 2020 1236 2020 1270 L 2020 1370 Z" fill="#C6C9C6" stroke="#8A6639" stroke-width="2.5"/><line x1="1991" y1="1240" x2="1991" y2="1370" stroke="#8A6639" stroke-width="1.6"/><path d="M 2030 1370 L 2030 1275 Q 2035 1250 2050 1245" fill="none" stroke="#8A6639" stroke-width="2.5"/><g stroke="#8A6639" stroke-width="2" fill="none"><path d="M 1945 1305 L 2050 1305 M 1945 1350 L 2050 1350 M 1947 1305 L 1947 1350"/><circle cx="1956" cy="1322" r="5"/><circle cx="1960" cy="1338" r="4"/><circle cx="1969" cy="1322" r="5"/><circle cx="1973" cy="1338" r="4"/><circle cx="1982" cy="1322" r="5"/><circle cx="1986" cy="1338" r="4"/><circle cx="1995" cy="1322" r="5"/><circle cx="1999" cy="1338" r="4"/><circle cx="2008" cy="1322" r="5"/><circle cx="2012" cy="1338" r="4"/><circle cx="2021" cy="1322" r="5"/><circle cx="2025" cy="1338" r="4"/><circle cx="2034" cy="1322" r="5"/><circle cx="2038" cy="1338" r="4"/></g><rect x="1944" y="1350" width="110" height="16" fill="#C8A882" stroke="#8A6639" stroke-width="1.4"/><path d="M 1936 937 Q 1937 917 1946 917 Q 1956 917 1957 937 Z" fill="#A6504A" stroke="#8A6639" stroke-width="1.2"/><rect x="1939" y="936" width="15" height="34" rx="5" fill="#FAF6EE" stroke="#8A6639" stroke-width="1.2"/><path d="M 1941 968 L 1952 968 L 1949 978 L 1944 978 Z" fill="#8E5A3A"/></g>
<rect x="143.5" y="467.0" width="168.5" height="200.5" fill="#000" opacity="0.07"/><rect x="142.0" y="464.5" width="168.5" height="200.5" fill="#FEFCF9"/><rect x="153.0" y="475.5" width="146.5" height="178.5" fill="#FADFC6"/>
<rect x="334.5" y="466.5" width="168.5" height="200.5" fill="#000" opacity="0.07"/><rect x="333.0" y="464.0" width="168.5" height="200.5" fill="#FEFCF9"/><rect x="344.0" y="475.0" width="146.5" height="178.5" fill="#FADFC6"/>
<rect x="525.0" y="299.5" width="284.0" height="372.0" fill="#000" opacity="0.07"/><rect x="523.5" y="297.0" width="284.0" height="372.0" fill="#FEFCF9"/><rect x="534.0" y="307.5" width="263.0" height="351.0" fill="#FADFC6"/>
<rect x="831.5" y="196.5" width="363.0" height="475.0" fill="#000" opacity="0.07"/><rect x="830.0" y="194.0" width="363.0" height="475.0" fill="#FEFCF9"/><rect x="840.5" y="204.5" width="342.0" height="454.0" fill="#FADFC6"/>
<rect x="1216.5" y="297.5" width="283.5" height="373.0" fill="#000" opacity="0.07"/><rect x="1215.0" y="295.0" width="283.5" height="373.0" fill="#FEFCF9"/><rect x="1225.5" y="305.5" width="262.5" height="352.0" fill="#FADFC6"/>
<rect x="1523.5" y="470.5" width="168.5" height="200.0" fill="#000" opacity="0.07"/><rect x="1522.0" y="468.0" width="168.5" height="200.0" fill="#FEFCF9"/><rect x="1533.0" y="479.0" width="146.5" height="178.0" fill="#FADFC6"/>
<rect x="1713.5" y="470.5" width="168.5" height="200.0" fill="#000" opacity="0.07"/><rect x="1712.0" y="468.0" width="168.5" height="200.0" fill="#FEFCF9"/><rect x="1723.0" y="479.0" width="146.5" height="178.0" fill="#FADFC6"/>
<rect x="143.3" y="741.5" width="169.0" height="201.5" fill="#000" opacity="0.07"/><rect x="141.8" y="739.0" width="169.0" height="201.5" fill="#FEFCF9"/><rect x="152.4" y="749.6" width="147.8" height="180.3" fill="#FADFC6"/>
<rect x="143.3" y="1012.2" width="169.0" height="201.1" fill="#000" opacity="0.07"/><rect x="141.8" y="1009.7" width="169.0" height="201.1" fill="#FEFCF9"/><rect x="152.4" y="1020.3" width="147.8" height="179.9" fill="#FADFC6"/>
<rect x="339.6" y="741.5" width="169.0" height="201.5" fill="#000" opacity="0.07"/><rect x="338.1" y="739.0" width="169.0" height="201.5" fill="#FEFCF9"/><rect x="348.7" y="749.6" width="147.8" height="180.3" fill="#FADFC6"/>
<rect x="339.6" y="1012.2" width="169.0" height="201.1" fill="#000" opacity="0.07"/><rect x="338.1" y="1009.7" width="169.0" height="201.1" fill="#FEFCF9"/><rect x="348.7" y="1020.3" width="147.8" height="179.9" fill="#FADFC6"/>
<rect x="535.8" y="741.5" width="169.0" height="201.5" fill="#000" opacity="0.07"/><rect x="534.3" y="739.0" width="169.0" height="201.5" fill="#FEFCF9"/><rect x="544.9" y="749.6" width="147.8" height="180.3" fill="#FADFC6"/>
<rect x="535.8" y="1012.2" width="169.0" height="201.1" fill="#000" opacity="0.07"/><rect x="534.3" y="1009.7" width="169.0" height="201.1" fill="#FEFCF9"/><rect x="544.9" y="1020.3" width="147.8" height="179.9" fill="#FADFC6"/>
<rect x="732.1" y="741.5" width="169.0" height="201.5" fill="#000" opacity="0.07"/><rect x="730.6" y="739.0" width="169.0" height="201.5" fill="#FEFCF9"/><rect x="741.2" y="749.6" width="147.8" height="180.3" fill="#FADFC6"/>
<rect x="732.1" y="1012.2" width="169.0" height="201.1" fill="#000" opacity="0.07"/><rect x="730.6" y="1009.7" width="169.0" height="201.1" fill="#FEFCF9"/><rect x="741.2" y="1020.3" width="147.8" height="179.9" fill="#FADFC6"/>
<rect x="928.3" y="741.5" width="169.0" height="201.5" fill="#000" opacity="0.07"/><rect x="926.8" y="739.0" width="169.0" height="201.5" fill="#FEFCF9"/><rect x="937.4" y="749.6" width="147.8" height="180.3" fill="#FADFC6"/>
<rect x="928.3" y="1012.2" width="169.0" height="201.1" fill="#000" opacity="0.07"/><rect x="926.8" y="1009.7" width="169.0" height="201.1" fill="#FEFCF9"/><rect x="937.4" y="1020.3" width="147.8" height="179.9" fill="#FADFC6"/>
<rect x="1124.6" y="741.5" width="169.0" height="201.5" fill="#000" opacity="0.07"/><rect x="1123.1" y="739.0" width="169.0" height="201.5" fill="#FEFCF9"/><rect x="1133.7" y="749.6" width="147.8" height="180.3" fill="#FADFC6"/>
<rect x="1124.6" y="1012.2" width="169.0" height="201.1" fill="#000" opacity="0.07"/><rect x="1123.1" y="1009.7" width="169.0" height="201.1" fill="#FEFCF9"/><rect x="1133.7" y="1020.3" width="147.8" height="179.9" fill="#FADFC6"/>
<rect x="1320.9" y="741.5" width="169.0" height="201.5" fill="#000" opacity="0.07"/><rect x="1319.4" y="739.0" width="169.0" height="201.5" fill="#FEFCF9"/><rect x="1330.0" y="749.6" width="147.8" height="180.3" fill="#FADFC6"/>
<rect x="1320.9" y="1012.2" width="169.0" height="201.1" fill="#000" opacity="0.07"/><rect x="1319.4" y="1009.7" width="169.0" height="201.1" fill="#FEFCF9"/><rect x="1330.0" y="1020.3" width="147.8" height="179.9" fill="#FADFC6"/>
<rect x="1517.1" y="741.5" width="169.0" height="201.5" fill="#000" opacity="0.07"/><rect x="1515.6" y="739.0" width="169.0" height="201.5" fill="#FEFCF9"/><rect x="1526.2" y="749.6" width="147.8" height="180.3" fill="#FADFC6"/>
<rect x="1517.1" y="1012.2" width="169.0" height="201.1" fill="#000" opacity="0.07"/><rect x="1515.6" y="1009.7" width="169.0" height="201.1" fill="#FEFCF9"/><rect x="1526.2" y="1020.3" width="147.8" height="179.9" fill="#FADFC6"/>
<rect x="1713.4" y="741.5" width="169.0" height="201.5" fill="#000" opacity="0.07"/><rect x="1711.9" y="739.0" width="169.0" height="201.5" fill="#FEFCF9"/><rect x="1722.5" y="749.6" width="147.8" height="180.3" fill="#FADFC6"/>
<rect x="1713.4" y="1012.2" width="169.0" height="201.1" fill="#000" opacity="0.07"/><rect x="1711.9" y="1009.7" width="169.0" height="201.1" fill="#FEFCF9"/><rect x="1722.5" y="1020.3" width="147.8" height="179.9" fill="#FADFC6"/>
<rect x="152" y="127" width="333" height="89" rx="44.5" fill="#6A6398"/>
<rect x="149" y="123" width="332" height="87" rx="43.5" fill="#7E80C8"/>
<text fill="#FFFFFF" stroke="#FFFFFF" stroke-width="1" stroke-linejoin="round"><tspan x="185.6" y="195.5" font-size="82.12" textLength="34.4" lengthAdjust="spacingAndGlyphs">П</tspan><tspan x="226.4" y="194.9" font-size="80.48" textLength="38.0" lengthAdjust="spacingAndGlyphs">Л</tspan><tspan x="264.9" y="195.5" font-size="81.40" textLength="36.7" lengthAdjust="spacingAndGlyphs">А</tspan><tspan x="310.6" y="195.5" font-size="82.12" textLength="32.3" lengthAdjust="spacingAndGlyphs">Н</tspan><tspan x="346.6" y="195.5" font-size="82.12" textLength="31.1" lengthAdjust="spacingAndGlyphs">Е</tspan><tspan x="385.2" y="195.5" font-size="82.85" textLength="28.3" lengthAdjust="spacingAndGlyphs">Т</tspan><tspan x="414.3" y="196.0" font-size="82.12" textLength="36.7" lengthAdjust="spacingAndGlyphs">А</tspan></text>
<text fill="#FFFFFF" stroke="#FFFFFF" stroke-width="8" stroke-linejoin="round"><tspan x="139.9" y="310.0" font-size="95.58" textLength="48.5" lengthAdjust="spacingAndGlyphs">Д</tspan><tspan x="197.5" y="326.2" font-size="113.81" textLength="42.3" lengthAdjust="spacingAndGlyphs">Е</tspan><tspan x="247.4" y="319.7" font-size="98.98" textLength="39.8" lengthAdjust="spacingAndGlyphs">Т</tspan><tspan x="292.8" y="325.1" font-size="110.59" textLength="46.5" lengthAdjust="spacingAndGlyphs">С</tspan><tspan x="356.0" y="321.6" font-size="101.75" textLength="39.7" lengthAdjust="spacingAndGlyphs">Т</tspan><tspan x="400.1" y="325.3" font-size="112.50" textLength="42.2" lengthAdjust="spacingAndGlyphs">В</tspan><tspan x="447.8" y="323.4" font-size="108.43" textLength="49.3" lengthAdjust="spacingAndGlyphs">А</tspan></text>
<text fill="#FFFFFF" stroke="#FFFFFF" stroke-width="1" stroke-linejoin="round" clip-path="url(#cpS1)"><tspan x="143.8" y="389.2" font-size="38.81" textLength="18.5" lengthAdjust="spacingAndGlyphs">Д</tspan><tspan x="164.1" y="389.2" font-size="38.81" textLength="13.1" lengthAdjust="spacingAndGlyphs">Е</tspan><tspan x="178.8" y="389.2" font-size="38.81" textLength="14.9" lengthAdjust="spacingAndGlyphs">Т</tspan><tspan x="195.4" y="389.3" font-size="39.12" textLength="14.9" lengthAdjust="spacingAndGlyphs">С</tspan><tspan x="209.6" y="389.2" font-size="38.81" textLength="17.1" lengthAdjust="spacingAndGlyphs">К</tspan><tspan x="227.7" y="389.2" font-size="38.81" textLength="19.6" lengthAdjust="spacingAndGlyphs">И</tspan><tspan x="247.3" y="389.2" font-size="38.99" textLength="20.7" lengthAdjust="spacingAndGlyphs">Й</tspan> <tspan x="293.6" y="389.3" font-size="39.12" textLength="15.8" lengthAdjust="spacingAndGlyphs">С</tspan><tspan x="307.4" y="389.2" font-size="38.81" textLength="21.0" lengthAdjust="spacingAndGlyphs">А</tspan><tspan x="329.2" y="389.2" font-size="38.81" textLength="21.1" lengthAdjust="spacingAndGlyphs">Д</tspan> <tspan x="364.8" y="389.2" font-size="38.81" textLength="38.1" lengthAdjust="spacingAndGlyphs">№</tspan><tspan x="405.7" y="389.2" font-size="38.81" textLength="13.1" lengthAdjust="spacingAndGlyphs">1</tspan><tspan x="421.6" y="389.2" font-size="38.95" textLength="16.6" lengthAdjust="spacingAndGlyphs">2</tspan><tspan x="439.0" y="389.3" font-size="39.04" textLength="16.1" lengthAdjust="spacingAndGlyphs">3</tspan><tspan x="455.5" y="389.2" font-size="38.81" textLength="18.5" lengthAdjust="spacingAndGlyphs">4</tspan></text>
<text fill="#FFFFFF" stroke="#FFFFFF" stroke-width="1" stroke-linejoin="round" clip-path="url(#cpS2)"><tspan x="142.8" y="435.8" font-size="41.45" textLength="17.9" lengthAdjust="spacingAndGlyphs">Г</tspan><tspan x="161.2" y="435.8" font-size="35.59" textLength="6.5" lengthAdjust="spacingAndGlyphs">.</tspan> <tspan x="176.3" y="435.8" font-size="41.43" textLength="17.1" lengthAdjust="spacingAndGlyphs">К</tspan><tspan x="194.6" y="435.8" font-size="41.43" textLength="21.0" lengthAdjust="spacingAndGlyphs">А</tspan><tspan x="215.7" y="435.5" font-size="40.96" textLength="17.9" lengthAdjust="spacingAndGlyphs">Л</tspan><tspan x="232.9" y="435.8" font-size="41.43" textLength="18.8" lengthAdjust="spacingAndGlyphs">И</tspan><tspan x="251.6" y="435.8" font-size="41.43" textLength="19.8" lengthAdjust="spacingAndGlyphs">Н</tspan><tspan x="270.4" y="435.8" font-size="41.43" textLength="19.8" lengthAdjust="spacingAndGlyphs">И</tspan><tspan x="289.2" y="435.8" font-size="41.43" textLength="19.8" lengthAdjust="spacingAndGlyphs">Н</tspan><tspan x="308.0" y="435.8" font-size="41.45" textLength="15.0" lengthAdjust="spacingAndGlyphs">Г</tspan><tspan x="332.9" y="435.8" font-size="41.43" textLength="17.0" lengthAdjust="spacingAndGlyphs">Р</tspan><tspan x="349.4" y="435.8" font-size="41.43" textLength="16.4" lengthAdjust="spacingAndGlyphs">А</tspan><tspan x="365.2" y="435.8" font-size="41.43" textLength="17.6" lengthAdjust="spacingAndGlyphs">Д</tspan></text>
<text fill="#FFFFFF" stroke="#FFFFFF" stroke-width="6" stroke-linejoin="round"><tspan x="1590.8" y="284.9" font-size="97.68" textLength="49.8" lengthAdjust="spacingAndGlyphs">Н</tspan><tspan x="1641.4" y="285.9" font-size="97.97" textLength="43.6" lengthAdjust="spacingAndGlyphs">А</tspan><tspan x="1695.6" y="282.9" font-size="91.86" textLength="84.3" lengthAdjust="spacingAndGlyphs">Ш</tspan><tspan x="1788.6" y="285.9" font-size="102.04" textLength="46.8" lengthAdjust="spacingAndGlyphs">А</tspan></text>
<text fill="#FFFFFF" stroke="#FFFFFF" stroke-width="6" stroke-linejoin="round"><tspan x="1555.2" y="386.9" font-size="108.80" textLength="30.3" lengthAdjust="spacingAndGlyphs">Г</tspan><tspan x="1597.3" y="386.0" font-size="110.90" textLength="50.1" lengthAdjust="spacingAndGlyphs">Р</tspan><tspan x="1650.8" y="384.0" font-size="103.19" textLength="53.5" lengthAdjust="spacingAndGlyphs">У</tspan><tspan x="1718.6" y="383.0" font-size="101.75" textLength="47.3" lengthAdjust="spacingAndGlyphs">П</tspan><tspan x="1775.8" y="384.0" font-size="103.20" textLength="48.5" lengthAdjust="spacingAndGlyphs">П</tspan><tspan x="1826.2" y="383.0" font-size="104.65" textLength="46.8" lengthAdjust="spacingAndGlyphs">А</tspan></text>
<text fill="#FFFFFF" stroke="#FFFFFF" stroke-width="0.8" stroke-linejoin="round"><tspan x="1733.0" y="430.7" font-size="23.74" textLength="16.5" lengthAdjust="spacingAndGlyphs">“</tspan><tspan x="1752.3" y="442.5" font-size="40.10" textLength="17.1" lengthAdjust="spacingAndGlyphs">Л</tspan><tspan x="1771.9" y="442.4" font-size="39.99" textLength="14.3" lengthAdjust="spacingAndGlyphs">У</tspan><tspan x="1791.3" y="442.8" font-size="40.55" textLength="17.2" lengthAdjust="spacingAndGlyphs">Ч</tspan><tspan x="1807.4" y="442.8" font-size="40.55" textLength="16.2" lengthAdjust="spacingAndGlyphs">И</tspan><tspan x="1824.4" y="442.8" font-size="40.55" textLength="16.4" lengthAdjust="spacingAndGlyphs">К</tspan><tspan x="1845.2" y="442.8" font-size="40.55" textLength="19.9" lengthAdjust="spacingAndGlyphs">И</tspan><tspan x="1863.6" y="430.7" font-size="23.74" textLength="19.0" lengthAdjust="spacingAndGlyphs">”</tspan></text>
<text x="208.8" y="700.6" font-size="21.51" textLength="35.7" lengthAdjust="spacingAndGlyphs" fill="#FFFFFF" stroke="#FFFFFF" stroke-width="0.4" stroke-linejoin="round">ИМЯ</text><text x="185.3" y="721.6" font-size="21.51" textLength="83.2" lengthAdjust="spacingAndGlyphs" fill="#FFFFFF" stroke="#FFFFFF" stroke-width="0.4" stroke-linejoin="round">ФАМИЛИЯ</text>
<text x="402.6" y="700.0" font-size="21.51" textLength="35.7" lengthAdjust="spacingAndGlyphs" fill="#FFFFFF" stroke="#FFFFFF" stroke-width="0.4" stroke-linejoin="round">ИМЯ</text><text x="379.1" y="721.0" font-size="21.51" textLength="83.2" lengthAdjust="spacingAndGlyphs" fill="#FFFFFF" stroke="#FFFFFF" stroke-width="0.4" stroke-linejoin="round">ФАМИЛИЯ</text>
<text x="1584.7" y="700.3" font-size="21.51" textLength="35.7" lengthAdjust="spacingAndGlyphs" fill="#FFFFFF" stroke="#FFFFFF" stroke-width="0.4" stroke-linejoin="round">ИМЯ</text><text x="1561.2" y="721.3" font-size="21.51" textLength="83.2" lengthAdjust="spacingAndGlyphs" fill="#FFFFFF" stroke="#FFFFFF" stroke-width="0.4" stroke-linejoin="round">ФАМИЛИЯ</text>
<text x="1778.2" y="700.3" font-size="21.51" textLength="35.7" lengthAdjust="spacingAndGlyphs" fill="#FFFFFF" stroke="#FFFFFF" stroke-width="0.4" stroke-linejoin="round">ИМЯ</text><text x="1754.7" y="721.3" font-size="21.51" textLength="83.2" lengthAdjust="spacingAndGlyphs" fill="#FFFFFF" stroke="#FFFFFF" stroke-width="0.4" stroke-linejoin="round">ФАМИЛИЯ</text>
<text x="647.2" y="696.8" font-size="21.22" textLength="44.7" lengthAdjust="spacingAndGlyphs" fill="#FFFFFF" stroke="#FFFFFF" stroke-width="0.4" stroke-linejoin="round">НЯНЯ</text>
<text x="607.1" y="717.8" font-size="20.49" textLength="125.7" lengthAdjust="spacingAndGlyphs" fill="#FFFFFF" stroke="#FFFFFF" stroke-width="0.4" stroke-linejoin="round">ИМЯ ФАМИЛИЯ</text>
<text x="947.9" y="700.8" font-size="21.22" textLength="114.4" lengthAdjust="spacingAndGlyphs" fill="#FFFFFF" stroke="#FFFFFF" stroke-width="0.4" stroke-linejoin="round">ВОСПИТАТЕЛЬ</text>
<text x="941.5" y="722.1" font-size="24.56" textLength="126.7" lengthAdjust="spacingAndGlyphs" fill="#FFFFFF" stroke="#FFFFFF" stroke-width="0.4" stroke-linejoin="round">ИМЯ ФАМИЛИЯ</text>
<text x="1331.1" y="696.8" font-size="19.48" textLength="45.5" lengthAdjust="spacingAndGlyphs" fill="#FFFFFF" stroke="#FFFFFF" stroke-width="0.4" stroke-linejoin="round">НЯНЯ</text>
<text x="1290.1" y="718.0" font-size="22.38" textLength="126.2" lengthAdjust="spacingAndGlyphs" fill="#FFFFFF" stroke="#FFFFFF" stroke-width="0.4" stroke-linejoin="round">ИМЯ ФАМИЛИЯ</text>
<text x="208.5" y="971.6" font-size="21.51" textLength="35.7" lengthAdjust="spacingAndGlyphs" fill="#FFFFFF" stroke="#FFFFFF" stroke-width="0.4" stroke-linejoin="round">ИМЯ</text><text x="185.0" y="992.6" font-size="21.51" textLength="83.2" lengthAdjust="spacingAndGlyphs" fill="#FFFFFF" stroke="#FFFFFF" stroke-width="0.4" stroke-linejoin="round">ФАМИЛИЯ</text>
<text x="208.5" y="1241.7" font-size="21.51" textLength="35.7" lengthAdjust="spacingAndGlyphs" fill="#FFFFFF" stroke="#FFFFFF" stroke-width="0.4" stroke-linejoin="round">ИМЯ</text><text x="185.0" y="1262.7" font-size="21.51" textLength="83.2" lengthAdjust="spacingAndGlyphs" fill="#FFFFFF" stroke="#FFFFFF" stroke-width="0.4" stroke-linejoin="round">ФАМИЛИЯ</text>
<text x="404.7" y="971.6" font-size="21.51" textLength="35.7" lengthAdjust="spacingAndGlyphs" fill="#FFFFFF" stroke="#FFFFFF" stroke-width="0.4" stroke-linejoin="round">ИМЯ</text><text x="381.2" y="992.6" font-size="21.51" textLength="83.2" lengthAdjust="spacingAndGlyphs" fill="#FFFFFF" stroke="#FFFFFF" stroke-width="0.4" stroke-linejoin="round">ФАМИЛИЯ</text>
<text x="404.7" y="1241.7" font-size="21.51" textLength="35.7" lengthAdjust="spacingAndGlyphs" fill="#FFFFFF" stroke="#FFFFFF" stroke-width="0.4" stroke-linejoin="round">ИМЯ</text><text x="381.2" y="1262.7" font-size="21.51" textLength="83.2" lengthAdjust="spacingAndGlyphs" fill="#FFFFFF" stroke="#FFFFFF" stroke-width="0.4" stroke-linejoin="round">ФАМИЛИЯ</text>
<text x="601.0" y="971.6" font-size="21.51" textLength="35.7" lengthAdjust="spacingAndGlyphs" fill="#FFFFFF" stroke="#FFFFFF" stroke-width="0.4" stroke-linejoin="round">ИМЯ</text><text x="577.5" y="992.6" font-size="21.51" textLength="83.2" lengthAdjust="spacingAndGlyphs" fill="#FFFFFF" stroke="#FFFFFF" stroke-width="0.4" stroke-linejoin="round">ФАМИЛИЯ</text>
<text x="601.0" y="1241.7" font-size="21.51" textLength="35.7" lengthAdjust="spacingAndGlyphs" fill="#FFFFFF" stroke="#FFFFFF" stroke-width="0.4" stroke-linejoin="round">ИМЯ</text><text x="577.5" y="1262.7" font-size="21.51" textLength="83.2" lengthAdjust="spacingAndGlyphs" fill="#FFFFFF" stroke="#FFFFFF" stroke-width="0.4" stroke-linejoin="round">ФАМИЛИЯ</text>
<text x="797.2" y="971.6" font-size="21.51" textLength="35.7" lengthAdjust="spacingAndGlyphs" fill="#FFFFFF" stroke="#FFFFFF" stroke-width="0.4" stroke-linejoin="round">ИМЯ</text><text x="773.7" y="992.6" font-size="21.51" textLength="83.2" lengthAdjust="spacingAndGlyphs" fill="#FFFFFF" stroke="#FFFFFF" stroke-width="0.4" stroke-linejoin="round">ФАМИЛИЯ</text>
<text x="797.2" y="1241.7" font-size="21.51" textLength="35.7" lengthAdjust="spacingAndGlyphs" fill="#FFFFFF" stroke="#FFFFFF" stroke-width="0.4" stroke-linejoin="round">ИМЯ</text><text x="773.7" y="1262.7" font-size="21.51" textLength="83.2" lengthAdjust="spacingAndGlyphs" fill="#FFFFFF" stroke="#FFFFFF" stroke-width="0.4" stroke-linejoin="round">ФАМИЛИЯ</text>
<text x="993.5" y="971.6" font-size="21.51" textLength="35.7" lengthAdjust="spacingAndGlyphs" fill="#FFFFFF" stroke="#FFFFFF" stroke-width="0.4" stroke-linejoin="round">ИМЯ</text><text x="970.0" y="992.6" font-size="21.51" textLength="83.2" lengthAdjust="spacingAndGlyphs" fill="#FFFFFF" stroke="#FFFFFF" stroke-width="0.4" stroke-linejoin="round">ФАМИЛИЯ</text>
<text x="993.5" y="1241.7" font-size="21.51" textLength="35.7" lengthAdjust="spacingAndGlyphs" fill="#FFFFFF" stroke="#FFFFFF" stroke-width="0.4" stroke-linejoin="round">ИМЯ</text><text x="970.0" y="1262.7" font-size="21.51" textLength="83.2" lengthAdjust="spacingAndGlyphs" fill="#FFFFFF" stroke="#FFFFFF" stroke-width="0.4" stroke-linejoin="round">ФАМИЛИЯ</text>
<text x="1189.8" y="971.6" font-size="21.51" textLength="35.7" lengthAdjust="spacingAndGlyphs" fill="#FFFFFF" stroke="#FFFFFF" stroke-width="0.4" stroke-linejoin="round">ИМЯ</text><text x="1166.3" y="992.6" font-size="21.51" textLength="83.2" lengthAdjust="spacingAndGlyphs" fill="#FFFFFF" stroke="#FFFFFF" stroke-width="0.4" stroke-linejoin="round">ФАМИЛИЯ</text>
<text x="1189.8" y="1241.7" font-size="21.51" textLength="35.7" lengthAdjust="spacingAndGlyphs" fill="#FFFFFF" stroke="#FFFFFF" stroke-width="0.4" stroke-linejoin="round">ИМЯ</text><text x="1166.3" y="1262.7" font-size="21.51" textLength="83.2" lengthAdjust="spacingAndGlyphs" fill="#FFFFFF" stroke="#FFFFFF" stroke-width="0.4" stroke-linejoin="round">ФАМИЛИЯ</text>
<text x="1386.0" y="971.6" font-size="21.51" textLength="35.7" lengthAdjust="spacingAndGlyphs" fill="#FFFFFF" stroke="#FFFFFF" stroke-width="0.4" stroke-linejoin="round">ИМЯ</text><text x="1362.5" y="992.6" font-size="21.51" textLength="83.2" lengthAdjust="spacingAndGlyphs" fill="#FFFFFF" stroke="#FFFFFF" stroke-width="0.4" stroke-linejoin="round">ФАМИЛИЯ</text>
<text x="1386.0" y="1241.7" font-size="21.51" textLength="35.7" lengthAdjust="spacingAndGlyphs" fill="#FFFFFF" stroke="#FFFFFF" stroke-width="0.4" stroke-linejoin="round">ИМЯ</text><text x="1362.5" y="1262.7" font-size="21.51" textLength="83.2" lengthAdjust="spacingAndGlyphs" fill="#FFFFFF" stroke="#FFFFFF" stroke-width="0.4" stroke-linejoin="round">ФАМИЛИЯ</text>
<text x="1582.3" y="971.6" font-size="21.51" textLength="35.7" lengthAdjust="spacingAndGlyphs" fill="#FFFFFF" stroke="#FFFFFF" stroke-width="0.4" stroke-linejoin="round">ИМЯ</text><text x="1558.8" y="992.6" font-size="21.51" textLength="83.2" lengthAdjust="spacingAndGlyphs" fill="#FFFFFF" stroke="#FFFFFF" stroke-width="0.4" stroke-linejoin="round">ФАМИЛИЯ</text>
<text x="1582.3" y="1241.7" font-size="21.51" textLength="35.7" lengthAdjust="spacingAndGlyphs" fill="#FFFFFF" stroke="#FFFFFF" stroke-width="0.4" stroke-linejoin="round">ИМЯ</text><text x="1558.8" y="1262.7" font-size="21.51" textLength="83.2" lengthAdjust="spacingAndGlyphs" fill="#FFFFFF" stroke="#FFFFFF" stroke-width="0.4" stroke-linejoin="round">ФАМИЛИЯ</text>
<text x="1778.5" y="971.6" font-size="21.51" textLength="35.7" lengthAdjust="spacingAndGlyphs" fill="#FFFFFF" stroke="#FFFFFF" stroke-width="0.4" stroke-linejoin="round">ИМЯ</text><text x="1755.0" y="992.6" font-size="21.51" textLength="83.2" lengthAdjust="spacingAndGlyphs" fill="#FFFFFF" stroke="#FFFFFF" stroke-width="0.4" stroke-linejoin="round">ФАМИЛИЯ</text>
<text x="1778.5" y="1241.7" font-size="21.51" textLength="35.7" lengthAdjust="spacingAndGlyphs" fill="#FFFFFF" stroke="#FFFFFF" stroke-width="0.4" stroke-linejoin="round">ИМЯ</text><text x="1755.0" y="1262.7" font-size="21.51" textLength="83.2" lengthAdjust="spacingAndGlyphs" fill="#FFFFFF" stroke="#FFFFFF" stroke-width="0.4" stroke-linejoin="round">ФАМИЛИЯ</text></svg>
</body></html>
